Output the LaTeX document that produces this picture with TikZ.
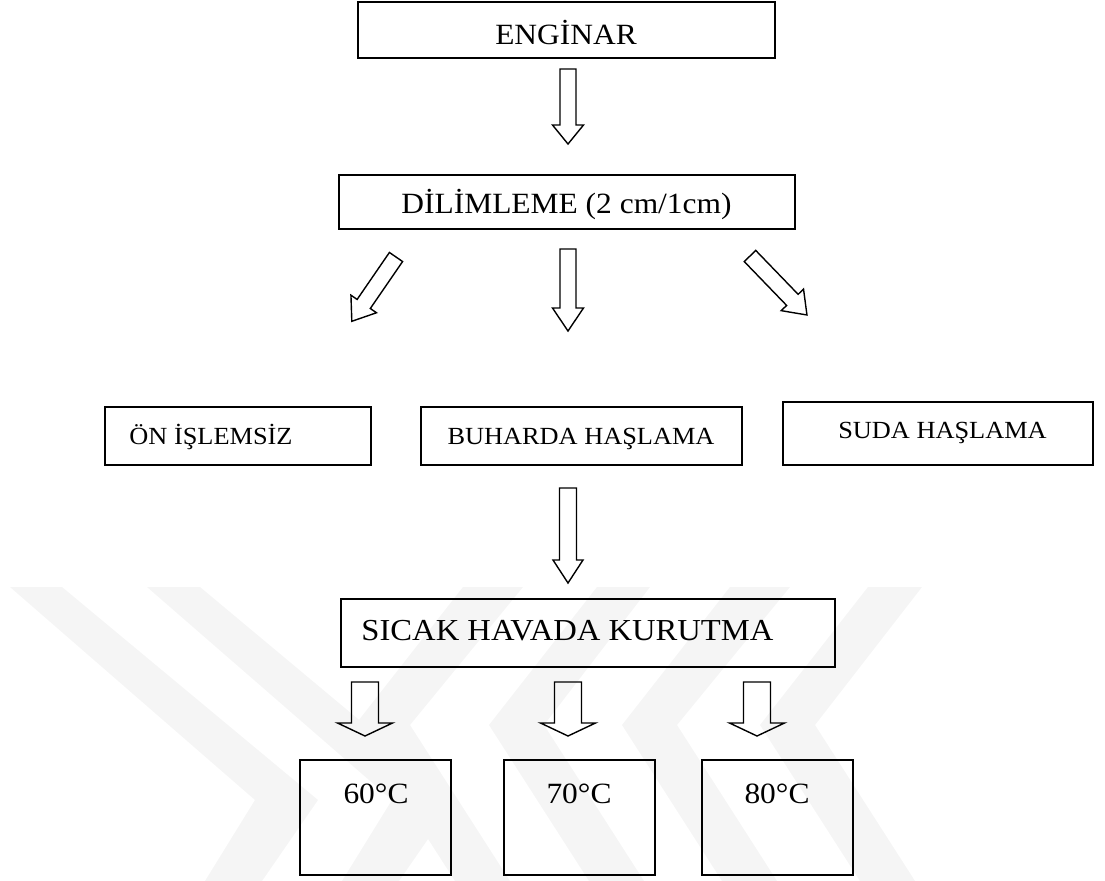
\documentclass[tikz,border=0pt]{standalone}
\usepackage{fontspec}
\setmainfont{Liberation Serif}
\usepackage{graphicx}
\tikzset{
  box/.style={draw=black, line width=2bp, inner sep=0pt},
  lbl/.style={inner sep=0pt, anchor=base},
  arrowline/.style={draw=black, line width=1.4bp, line join=miter},
  wm/.style={fill=black!4, draw=none},
  pics/fat/.style args={#1/#2/#3/#4}{code={
    \path[arrowline] (0,-#2) -- ({#1-#4},-#2) -- ({#1-#4},-#3) -- (#1,0)
      -- ({#1-#4},#3) -- ({#1-#4},#2) -- (0,#2) -- cycle;}}
}
\newcommand\txt[3]{\scalebox{#1}[1]{\fontsize{#2}{#2}\selectfont #3}}
\begin{document}
\begin{tikzpicture}[x=1bp,y=-1bp]
\useasboundingbox (0,0) rectangle (1105,881);
% watermark
\begin{scope}
\clip (0,0) rectangle (1105,881);
\fill[wm] (10,587) -- (62,587) -- (318,800) -- (262,881) -- (205,881) -- (255,800) -- cycle;
\fill[wm] (147,587) -- (200,587) -- (455,800) -- (399,881) -- (342,881) -- (392,800) -- cycle;
\fill[wm] (463,587) -- (523,587) -- (410,725) -- (510,881) -- (455,881) -- (355,725) -- cycle;
\fill[wm] (597,587) -- (650,587) -- (544,725) -- (644,881) -- (589,881) -- (489,725) -- cycle;
\fill[wm] (730,587) -- (790,587) -- (677,725) -- (777,881) -- (722,881) -- (622,725) -- cycle;
\fill[wm] (868,587) -- (922,587) -- (815,725) -- (915,881) -- (860,881) -- (760,725) -- cycle;
\end{scope}
% boxes
\node[box, minimum width=417bp, minimum height=56bp] (eng) at (566.5,30) {};
\node[box, minimum width=456bp, minimum height=54bp] (dil) at (567,202) {};
\node[box, minimum width=266bp, minimum height=58bp] (on) at (238,436) {};
\node[box, minimum width=321bp, minimum height=58bp] (buh) at (581.5,436) {};
\node[box, minimum width=310bp, minimum height=63bp] (suda) at (938,433.5) {};
\node[box, minimum width=494bp, minimum height=68bp] (sicak) at (588,633) {};
\node[box, minimum width=151bp, minimum height=115bp] (t60) at (375.5,817.5) {};
\node[box, minimum width=151bp, minimum height=115bp] (t70) at (579.5,817.5) {};
\node[box, minimum width=151bp, minimum height=115bp] (t80) at (777.5,817.5) {};
% texts
\node[lbl] (engt) at (566,44) {\txt{1.07}{29.5}{ENGİNAR}};
\node[lbl] (dilt) at (566.5,213) {\txt{1.07}{29.5}{DİLİMLEME (2 cm/1cm)}};
\node[lbl] (ont) at (211,444) {\txt{1.07}{24.7}{ÖN İŞLEMSİZ}};
\node[lbl] (buht) at (581,444) {\txt{1.07}{24.7}{BUHARDA HAŞLAMA}};
\node[lbl] (sudat) at (942.5,438) {\txt{1.07}{24.7}{SUDA HAŞLAMA}};
\node[lbl] (sicakt) at (567.5,640) {\txt{1.07}{30.6}{SICAK HAVADA KURUTMA}};
\node[lbl] (t60t) at (376,803) {\txt{1.07}{29.5}{60°C}};
\node[lbl] (t70t) at (579,803) {\txt{1.07}{29.5}{70°C}};
\node[lbl] (t80t) at (777,803) {\txt{1.07}{29.5}{80°C}};
% arrow tails
\coordinate (a1) at (568,69);
\coordinate (a2) at (568,249);
\coordinate (a3) at (396,257);
\coordinate (a4) at (750,256);
\coordinate (a5) at (568,488);
\coordinate (a6) at (365,682);
\coordinate (a7) at (568,682);
\coordinate (a8) at (757,682);
% fat arrows
\pic[rotate=-90] at (a1) {fat=75/8/15.5/19};
\pic[rotate=-90] at (a2) {fat=82/8/15.5/23};
\pic[rotate=-124.5] at (a3) {fat=78/8/15.5/21};
\pic[rotate=-46] at (a4) {fat=82/8/15.5/21};
\pic[rotate=-90] at (a5) {fat=95/8.5/15/23};
\pic[rotate=-90] at (a6) {fat=54/13.5/27.5/13};
\pic[rotate=-90] at (a7) {fat=54/13.5/27.5/13};
\pic[rotate=-90] at (a8) {fat=54/13.5/27.5/13};
\end{tikzpicture}
\end{document}
